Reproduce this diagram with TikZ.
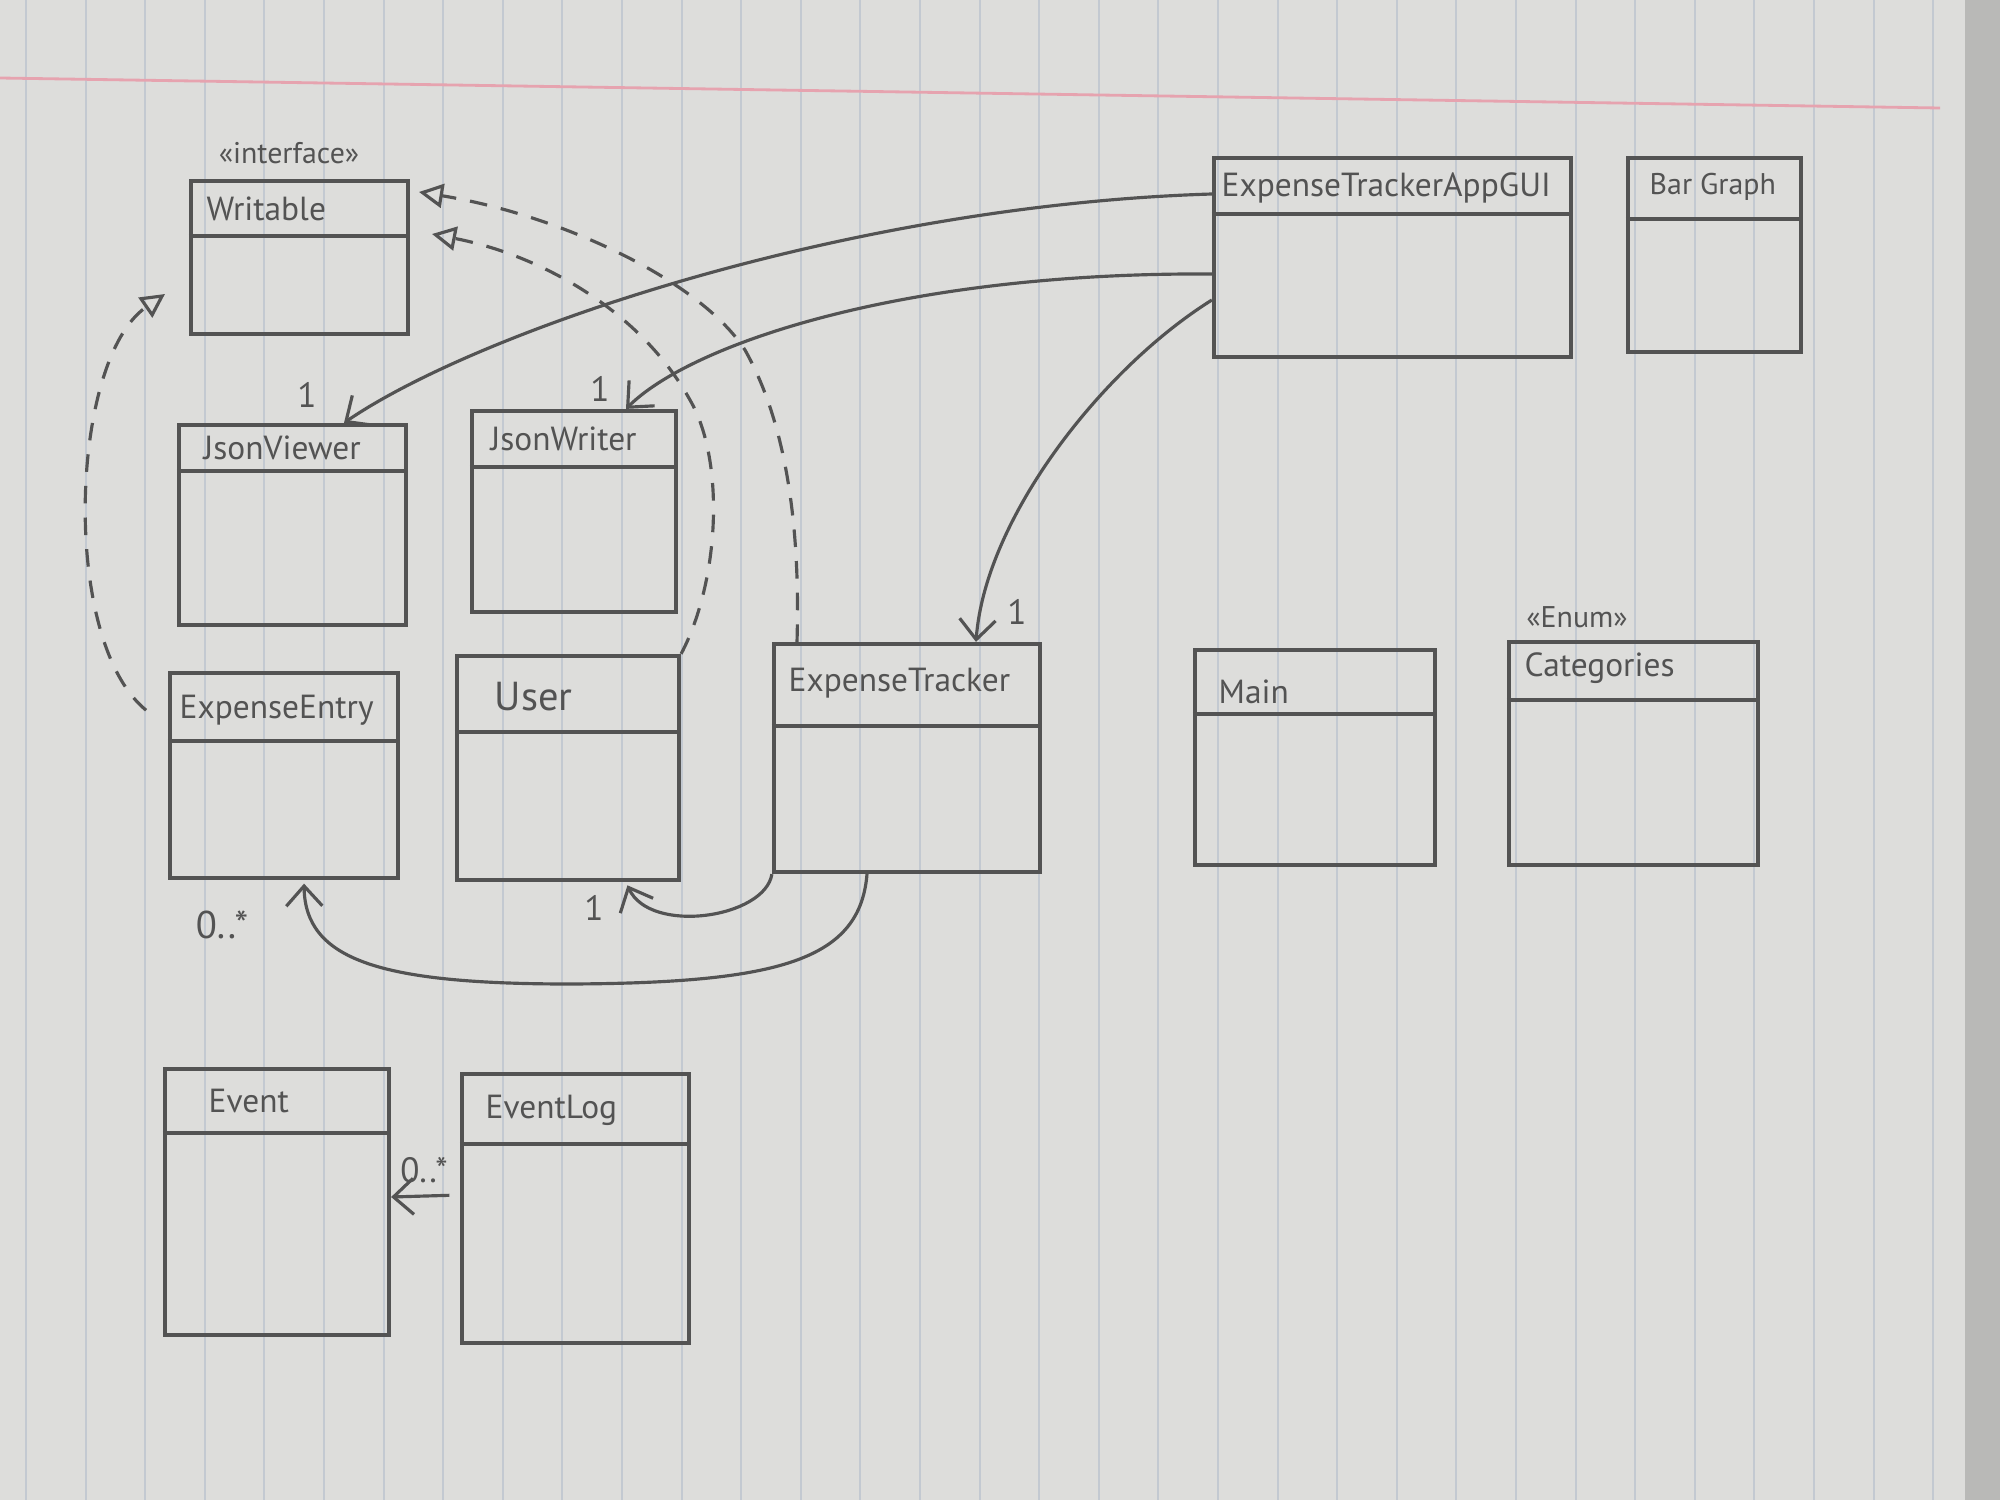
\documentclass[tikz,border=0pt]{standalone}
\usepackage{fontspec}
\setmainfont{PT Sans}
\usetikzlibrary{arrows.meta,fit}
\definecolor{paper}{HTML}{DDDDDB}
\definecolor{paperedge}{HTML}{B9B9B7}
\definecolor{rulecol}{HTML}{C3C9D1}
\definecolor{margincol}{HTML}{E6A3AF}
\definecolor{pencil}{HTML}{535353}
\begin{document}
\begin{tikzpicture}[x=0.01cm,y=-0.01cm,
  clsbox/.style={draw=pencil, line width=1.2pt, inner sep=0pt},
  divider/.style={draw=pencil, line width=1.1pt},
  cname/.style={anchor=west, text=pencil, inner sep=0pt, font=\fontsize{9.5}{11}\selectfont},
  stereo/.style={text=pencil, inner sep=0pt, font=\fontsize{8.5}{10}\selectfont},
  mult/.style={text=pencil, inner sep=0pt, font=\fontsize{10}{12}\selectfont},
  assoc/.style={draw=pencil, line width=0.9pt, -{Straight Barb[length=2mm,width=3.6mm]}},
  realize/.style={draw=pencil, line width=0.9pt, dash pattern=on 5pt off 4pt, -{Triangle[open,length=2.4mm,width=2.4mm]}}
]
\useasboundingbox (0,0) rectangle (2000,1500);
% paper
\fill[paper] (0,0) rectangle (2000,1500);
\fill[paperedge] (1965,0) rectangle (2000,1500);
\foreach \i in {0,...,32} \draw[rulecol, line width=0.6pt] ({26+59.6*\i},0) -- ({26+59.6*\i},1500);
\draw[margincol, line width=0.8pt] (0,78) -- (1940,108);

% classes
\node[clsbox, fit={(191,181) (408,334)}] (writable) {};
\draw[divider] (writable.west |- 0,236) -- (writable.east |- 0,236);
\node[cname] (writable-t) at (206,209) {Writable};
\node[stereo] (writable-s) at (289,153) {«interface»};

\node[clsbox, fit={(179,425) (406,625)}] (jsonviewer) {};
\draw[divider] (jsonviewer.west |- 0,471) -- (jsonviewer.east |- 0,471);
\node[cname] (jsonviewer-t) at (203,448) {JsonViewer};

\node[clsbox, fit={(472,411) (676,612)}] (jsonwriter) {};
\draw[divider] (jsonwriter.west |- 0,467) -- (jsonwriter.east |- 0,467);
\node[cname] (jsonwriter-t) at (490,439) {JsonWriter};

\node[clsbox, fit={(170,673) (398,878)}] (expenseentry) {};
\draw[divider] (expenseentry.west |- 0,741) -- (expenseentry.east |- 0,741);
\node[cname] (expenseentry-t) at (179,710) {ExpenseEntry};

\node[clsbox, fit={(457,656) (679,880)}] (user) {};
\draw[divider] (user.west |- 0,732) -- (user.east |- 0,732);
\node[cname, font=\fontsize{11.5}{13}\selectfont] (user-t) at (494,697) {User};

\node[clsbox, fit={(774,644) (1040,872)}] (tracker) {};
\draw[divider] (tracker.west |- 0,726) -- (tracker.east |- 0,726);
\node[cname] (tracker-t) at (788,683) {ExpenseTracker};

\node[clsbox, fit={(1195,650) (1435,865)}] (main) {};
\draw[divider] (main.west |- 0,714) -- (main.east |- 0,714);
\node[cname] (main-t) at (1218,692) {Main};

\node[clsbox, fit={(1509,642) (1758,865)}] (categories) {};
\draw[divider] (categories.west |- 0,700) -- (categories.east |- 0,700);
\node[cname] (categories-t) at (1524,668) {Categories};
\node[stereo] (categories-s) at (1577,617) {«Enum»};

\node[clsbox, fit={(1214,158) (1571,357)}] (gui) {};
\draw[divider] (gui.west |- 0,214) -- (gui.east |- 0,214);
\node[cname] (gui-t) at (1221,188) {ExpenseTrackerAppGUI};

\node[clsbox, fit={(1628,158) (1801,352)}] (bargraph) {};
\draw[divider] (bargraph.west |- 0,219) -- (bargraph.east |- 0,219);
\node[cname, font=\fontsize{8.5}{10}\selectfont] (bargraph-t) at (1649,187) {Bar Graph};

\node[clsbox, fit={(165,1069) (389,1335)}] (event) {};
\draw[divider] (event.west |- 0,1133) -- (event.east |- 0,1133);
\node[cname] (event-t) at (208,1101) {Event};

\node[clsbox, fit={(462,1074) (689,1343)}] (eventlog) {};
\draw[divider] (eventlog.west |- 0,1144) -- (eventlog.east |- 0,1144);
\node[cname] (eventlog-t) at (485,1110) {EventLog};

% associations
\draw[assoc] (gui.west |- 0,194) .. controls (850,205) and (480,330) .. (344,0 |- jsonviewer.north);
\draw[assoc] (gui.west |- 0,274) .. controls (900,272) and (690,345) .. (626,0 |- jsonwriter.north);
\draw[assoc] (gui.west |- 0,300) .. controls (1100,370) and (985,520) .. (976,0 |- tracker.north);
\draw[assoc, shorten >=1pt] (tracker.south west) .. controls (765,918) and (650,935) .. (626,0 |- user.south);
\draw[assoc, shorten >=1pt] (867,0 |- tracker.south) .. controls (860,960) and (780,983) .. (570,984)
   .. controls (380,984) and (305,960) .. (304,0 |- expenseentry.south);
\draw[assoc, shorten <=3pt] (eventlog.west |- 0,1195) -- (event.east |- 0,1197);

% multiplicities
\node[mult] (m1) at (307,395) {1};
\node[mult] (m2) at (600,389) {1};
\node[mult] (m3) at (1017,612) {1};
\node[mult] (m4) at (594,908) {1};
\node[mult, font=\fontsize{11}{13}\selectfont] (m5) at (222,925) {0..*};
\node[mult] (m6) at (424,1170) {0..*};

% realizations
\coordinate (wr-a) at (165,294);
\coordinate (wr-b) at (432,234);
\coordinate (wr-c) at (419,192);
\draw[realize, shorten <=8pt] (expenseentry.west |- 0,728) .. controls (60,640) and (70,360) .. (wr-a);
\draw[realize] (user.north east) .. controls (720,580) and (725,460) .. (690,400)
   .. controls (640,310) and (540,255) .. (wr-b);
\draw[realize] (797,0 |- tracker.north) .. controls (800,540) and (790,430) .. (745,350)
   .. controls (700,280) and (560,215) .. (wr-c);
\end{tikzpicture}
\end{document}
